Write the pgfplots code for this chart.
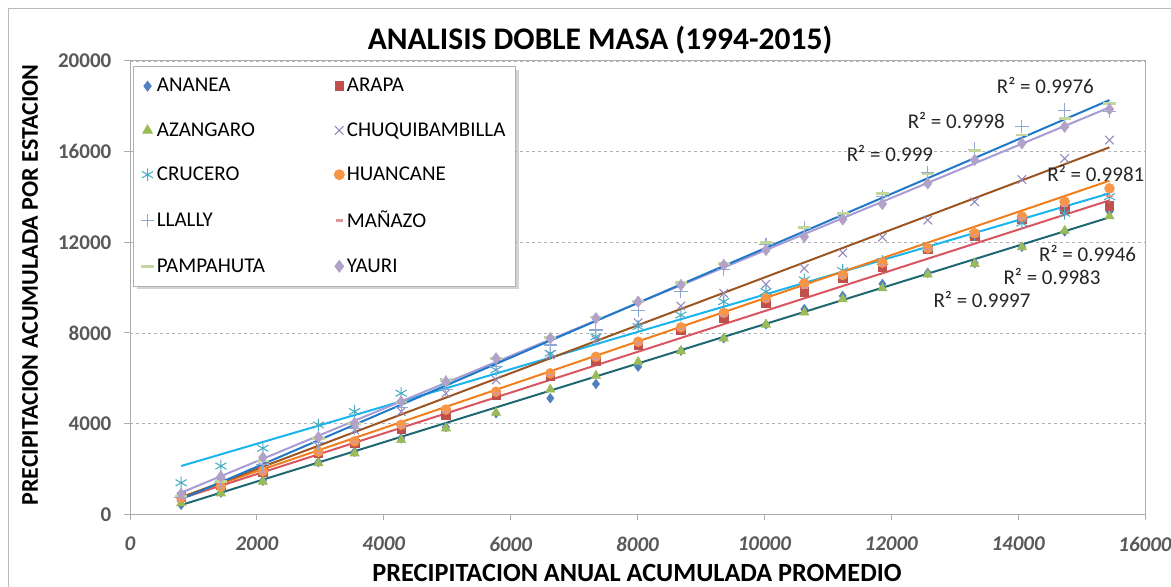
\documentclass[border=0pt]{standalone}
\usepackage{fontspec}
\setmainfont{Carlito}
\usepackage{pgfplots}
\usepackage{pgfplotstable}
\pgfplotsset{compat=1.18}
\usetikzlibrary{shadows}

\definecolor{cAnanea}{HTML}{4F81BD}
\definecolor{cArapa}{HTML}{C0504D}
\definecolor{cAzan}{HTML}{9BBB59}
\definecolor{cChuq}{HTML}{9585BD}
\definecolor{cCruc}{HTML}{4BACC6}
\definecolor{cHuan}{HTML}{F79646}
\definecolor{cLlal}{HTML}{8EA9D3}
\definecolor{cMan}{HTML}{D99694}
\definecolor{cPamp}{HTML}{C3D69B}
\definecolor{cYauri}{HTML}{B3A2C7}
\definecolor{tBlue}{HTML}{1F78C8}
\definecolor{tLav}{HTML}{A89CD4}
\definecolor{tBrown}{HTML}{9C5520}
\definecolor{tOrange}{HTML}{F07E1C}
\definecolor{tCyan}{HTML}{1AB4EE}
\definecolor{tRed}{HTML}{D95660}
\definecolor{tTeal}{HTML}{1F6872}
\definecolor{tickgray}{HTML}{595959}

\pgfplotstableread{
x ananea arapa azangaro chuq crucero huancane llally manazo pampahuta yauri
806 420 780 485 750 1390 740 750 700 800 900
1433 960 1290 925 1400 2130 1230 1400 1250 1450 1660
2095 1480 1880 1440 2100 2910 1900 2200 1850 2350 2510
2970 2300 2690 2250 3000 3940 2760 3150 2700 3350 3400
3540 2760 3130 2690 3720 4530 3220 3800 3180 4000 4020
4275 3350 3750 3280 4530 5340 3950 4700 3850 4950 4970
4980 3850 4380 3790 5340 5850 4620 5500 4500 5900 5850
5770 4460 5250 4480 5925 6370 5410 6510 5330 6880 6880
6625 5120 6100 5510 7030 7100 6220 7470 6150 7800 7765
7345 5750 6780 6115 7700 7830 6950 8130 6850 8700 8650
8010 6510 7470 6730 8450 8280 7615 9010 7530 9400 9380
8685 7220 8120 7200 9190 8790 8250 9820 8180 10230 10115
9360 7770 8650 7760 9750 9380 8890 10790 8760 11070 11000
10025 8380 9310 8370 10150 9820 9530 11900 9420 11980 11660
10630 9050 9820 8900 10850 10340 10190 12630 9980 12660 12240
11235 9630 10410 9490 11530 10750 10560 13150 10480 13260 13010
11860 10160 10920 9970 12220 11150 11100 14030 11000 14160 13690
12575 10650 11690 10580 12980 11750 11740 15080 11700 15020 14600
13315 11080 12280 11040 13790 12350 12400 16110 12330 16050 15630
14060 11800 13010 11780 14770 12850 13140 17100 13050 16730 16370
14733 12480 13450 12510 15700 13280 13790 17830 13600 17470 17100
15440 13350 13600 13150 16510 14010 14380 17760 14050 18130 17870
}\data

\begin{document}
\begin{tikzpicture}
\useasboundingbox (0,0) rectangle (878.25pt,439.5pt);
\draw[gray!55, line width=0.75pt] (6pt,-20pt) rectangle (900pt,432.75pt);
\node[font=\bfseries\fontsize{23.6}{28}\selectfont] at (450pt,409pt) {ANALISIS DOBLE MASA (1994-2015)};
\node[font=\bfseries\fontsize{19.7}{24}\selectfont] at (477.75pt,9.6pt) {PRECIPITACION ANUAL ACUMULADA PROMEDIO};
\node[font=\bfseries\fontsize{18}{22}\selectfont, rotate=90] at (22.5pt,225.75pt) {PRECIPITACION ACUMULADA POR ESTACION};
\begin{axis}[
  at={(97.5pt,53.78pt)}, anchor=south west,
  scale only axis, width=761.25pt, height=340pt,
  xmin=0, xmax=16000, ymin=0, ymax=20000,
  xtick={0,2000,...,16000}, ytick={0,4000,...,20000},
  scaled ticks=false,
  /pgf/number format/.cd, 1000 sep={}, assume math mode=true, /pgfplots/.cd,
  ymajorgrids,
  grid style={gray!60, dash pattern=on 2.5pt off 2pt, line width=0.6pt},
  axis line style={gray!65, line width=0.75pt},
  tick style={gray!65, line width=0.75pt},
  tick align=outside, major tick length=4.5pt,
  xtick pos=bottom, ytick pos=left,
  yticklabel style={font=\bfseries\fontsize{15.75}{18}\selectfont, text=tickgray, xshift=-6pt},
  xticklabel style={font=\bfseries\itshape\fontsize{15.75}{18}\selectfont, text=tickgray, yshift=-9pt},
  legend columns=2,
  legend cell align=left,
  legend image code/.code={\draw[mark repeat=2,mark phase=2,#1] plot coordinates {(0pt,0pt) (5pt,0pt) (10pt,0pt)};},
  legend style={at={(rel axis cs:0.003,0.989)}, anchor=north west,
    draw=gray!60, fill=white, line width=0.75pt,
    drop shadow={opacity=0.35, shadow xshift=2.5pt, shadow yshift=-2.5pt},
    font=\fontsize{15.75}{18}\selectfont,
    inner xsep=5.5pt, inner ysep=7pt, row sep=17.5pt,
    /tikz/every even column/.append style={column sep=50pt}},
]
\addplot[only marks, mark=diamond*, mark size=3.6pt, color=cAnanea] table[x=x,y=ananea]{\data};
\addlegendentry{ANANEA}
\addplot[only marks, mark=square*, mark size=3.2pt, color=cArapa] table[x=x,y=arapa]{\data};
\addlegendentry{ARAPA}
\addplot[only marks, mark=triangle*, mark size=4pt, color=cAzan] table[x=x,y=azangaro]{\data};
\addlegendentry{AZANGARO}
\addplot[only marks, mark=x, mark size=4.5pt, color=cChuq, mark options={line width=0.8pt}] table[x=x,y=chuq]{\data};
\addlegendentry{CHUQUIBAMBILLA}
\addplot[only marks, mark=asterisk, mark size=4.8pt, color=cCruc, mark options={line width=0.8pt}] table[x=x,y=crucero]{\data};
\addlegendentry{CRUCERO}
\addplot[only marks, mark=*, mark size=3.7pt, color=cHuan] table[x=x,y=huancane]{\data};
\addlegendentry{HUANCANE}
\addplot[only marks, mark=+, mark size=5pt, color=cLlal, mark options={line width=0.8pt}] table[x=x,y=llally]{\data};
\addlegendentry{LLALLY}
\addplot[only marks, mark=-, mark size=2.6pt, color=cMan, mark options={line width=1.8pt}] table[x=x,y=manazo]{\data};
\addlegendentry{MAÑAZO}
\addplot[only marks, mark=-, mark size=4.6pt, color=cPamp, mark options={line width=2pt}] table[x=x,y=pampahuta]{\data};
\addlegendentry{PAMPAHUTA}
\addplot[only marks, mark=diamond*, mark size=4.3pt, color=cYauri] table[x=x,y=yauri]{\data};
\addlegendentry{YAURI}
% trend lines
\addplot[forget plot, tTeal, line width=1.5pt] coordinates {(806,410) (15440,13100)};
\addplot[forget plot, tRed, line width=1.5pt] coordinates {(806,700) (15440,13850)};
\addplot[forget plot, tCyan, line width=1.5pt] coordinates {(806,2130) (15440,14160)};
\addplot[forget plot, tOrange, line width=1.5pt] coordinates {(806,760) (15440,14715)};
\addplot[forget plot, tBrown, line width=1.5pt] coordinates {(806,740) (15440,16190)};
\addplot[forget plot, tLav, line width=1.5pt] coordinates {(806,953) (15440,17950)};
\addplot[forget plot, tBlue, line width=1.5pt] coordinates {(806,660) (15440,18275)};
\begin{scope}[every node/.style={font=\fontsize{15.75}{18}\selectfont, text=black!85}]
\node at (axis cs:14430,18940) {R² = 0.9976};
\node at (axis cs:13024,17366) {R² = 0.9998};
\node at (axis cs:11980,15928) {R² = 0.999};
\node at (axis cs:15225,15045) {R² = 0.9981};
\node at (axis cs:15096,11516) {R² = 0.9946};
\node at (axis cs:14534,10483) {R² = 0.9983};
\node at (axis cs:13431,9455) {R² = 0.9997};
\end{scope}
\end{axis}
\end{tikzpicture}
\end{document}
